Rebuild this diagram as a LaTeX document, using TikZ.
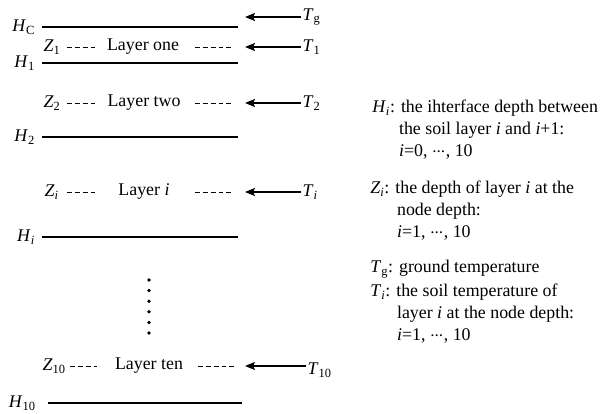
\documentclass[tikz,border=0pt]{standalone}
\usepackage{fontspec}
\setmainfont{Liberation Serif}
\usetikzlibrary{arrows.meta,positioning}
\newcommand{\vsym}[2]{\textit{#1}\textsubscript{#2}}
\newcommand{\cdts}{${\cdot}\mkern-1mu{\cdot}\mkern-1mu{\cdot}$}

\begin{document}
\begin{tikzpicture}[x=0.75pt, y=-0.75pt,
    every node/.style={font=\fontsize{13.4}{16.2}\selectfont, inner sep=1pt},
    iface/.style={line width=1pt},
    dashpart/.style={line width=0.7pt, dash pattern=on 3.6pt off 2.3pt},
    heat/.style={-{Stealth[length=7.5pt,width=6pt,inset=1.5pt]}, line width=1pt},
    note/.style={anchor=north west, align=left, inner sep=0pt},
]
\useasboundingbox (0,0) rectangle (608,414);

% interfaces H
\coordinate (hcL) at (42,27);  \coordinate (hcR) at (238,27);
\coordinate (h1L) at (42,63);  \coordinate (h1R) at (238,63);
\coordinate (h2L) at (42,137); \coordinate (h2R) at (238,137);
\coordinate (hiL) at (42,237); \coordinate (hiR) at (238,237);
\coordinate (h10L) at (48,403); \coordinate (h10R) at (242,403);
\draw[iface] (hcL) -- (hcR);
\draw[iface] (h1L) -- (h1R);
\draw[iface] (h2L) -- (h2R);
\draw[iface] (hiL) -- (hiR);
\draw[iface] (h10L) -- (h10R);
\node[left=4pt of hcL] (hc) {\vsym{H}{C}};
\node[left=4pt of h1L] (h1) {\vsym{H}{1}};
\node[left=4pt of h2L] (h2) {\vsym{H}{2}};
\node[left=4pt of hiL] (hi) {\vsym{H}{\textit{i}}};
\node[left=8pt of h10L] (h10) {\vsym{H}{10}};

% ground temperature
\coordinate (tgtip) at (245,17);
\node[anchor=west] (tg) at (301,17) {\vsym{T}{g}};
\draw[heat] (tg) -- (tgtip);

% layer one
\node[anchor=west] (z1) at (42,47) {\vsym{Z}{1}};
\node (lay1) at (143,47) {Layer one};
\coordinate (a1) at (67,47);  \coordinate (b1) at (97,47);
\coordinate (c1) at (195,47); \coordinate (d1) at (233,47);
\draw[dashpart] (a1) -- (b1);
\draw[dashpart] (c1) -- (d1);
\node[anchor=west] (t1) at (301,47) {\vsym{T}{1}};
\draw[heat] (t1) -- (245,47);

% layer two
\node[anchor=west] (z2) at (42,103) {\vsym{Z}{2}};
\node (lay2) at (144,103) {Layer two};
\coordinate (a2) at (67,103);  \coordinate (b2) at (97,103);
\coordinate (c2) at (195,103); \coordinate (d2) at (233,103);
\draw[dashpart] (a2) -- (b2);
\draw[dashpart] (c2) -- (d2);
\node[anchor=west] (t2) at (301,103) {\vsym{T}{2}};
\draw[heat] (t2) -- (245,103);

% layer i
\node[anchor=west] (zi) at (43,192) {\vsym{Z}{\textit{i}}};
\node (layi) at (144,192) {Layer \textit{i}};
\coordinate (ai) at (67,192);  \coordinate (bi) at (97,192);
\coordinate (ci) at (195,192); \coordinate (di) at (233,192);
\draw[dashpart] (ai) -- (bi);
\draw[dashpart] (ci) -- (di);
\node[anchor=west] (ti) at (301,192) {\vsym{T}{\textit{i}}};
\draw[heat] (ti) -- (245,192);

% skipped layers
\foreach \k in {0,...,5}
  \fill (149,280+10.6*\k) circle (1.4pt);

% layer ten
\node[anchor=west] (z10) at (41,366) {\vsym{Z}{10}};
\node (lay10) at (149,366) {Layer ten};
\coordinate (a10) at (70,366);  \coordinate (b10) at (97,366);
\coordinate (c10) at (198,366); \coordinate (d10) at (235,366);
\draw[dashpart] (a10) -- (b10);
\draw[dashpart] (c10) -- (d10);
\node[anchor=west] (t10) at (306,370) {\vsym{T}{10}};
\draw[heat] (t10.west |- d10) -- (245,366);

% legend
\node[note] (legH) at (372,100) {\vsym{H}{\textit{i}}: the ihterface depth between\\
  \hspace*{1.5em}the soil layer \textit{i} and \textit{i}+1:\\
  \hspace*{1.5em}\textit{i}=0, \cdts, 10};
\node[note] (legZ) at (370,181) {\vsym{Z}{\textit{i}}: the depth of layer \textit{i} at the\\
  \hspace*{1.5em}node depth:\\
  \hspace*{1.5em}\textit{i}=1, \cdts, 10};
\node[note] (legTg) at (370,260) {\vsym{T}{g}: ground temperature};
\node[note] (legTi) at (370,284) {\vsym{T}{\textit{i}}: the soil temperature of\\
  \hspace*{1.5em}layer \textit{i} at the node depth:\\
  \hspace*{1.5em}\textit{i}=1, \cdts, 10};
\end{tikzpicture}
\end{document}
